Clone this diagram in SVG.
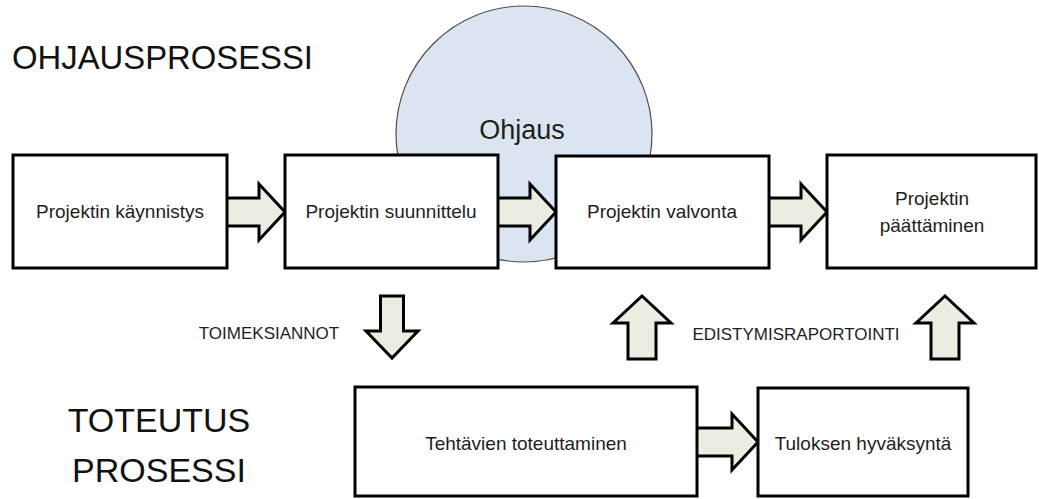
<svg xmlns="http://www.w3.org/2000/svg" width="1039" height="499" viewBox="0 0 1039 499">
  <style>
    .box { fill: #ffffff; stroke: #000000; stroke-width: 3; }
    .arrow { fill: #eeece1; stroke: #000000; stroke-width: 3; stroke-linejoin: miter; }
    .lbl { font-family: "Liberation Sans", Arial, sans-serif; font-size: 19px; fill: #1e1e1e; text-anchor: middle; }
    .small { font-family: "Liberation Sans", Arial, sans-serif; font-size: 17px; fill: #1e1e1e; text-anchor: middle; }
    .title { font-family: "Liberation Sans", Arial, sans-serif; font-size: 34px; fill: #111111; }
  </style>
  <rect width="1039" height="499" fill="#ffffff"/>

  <g id="title-ohjaus">
    <text class="title" x="12" y="69" textLength="301" lengthAdjust="spacingAndGlyphs">OHJAUSPROSESSI</text>
  </g>
  <g id="title-toteutus">
    <text class="title" x="159" y="432" text-anchor="middle">TOTEUTUS</text>
    <text class="title" x="159" y="482" text-anchor="middle">PROSESSI</text>
  </g>

  <g id="ohjaus">
    <circle cx="524" cy="134" r="128" fill="#dbe5f1" stroke="#4d4d4d" stroke-width="1.2"/>
    <text x="522" y="139" font-family="Liberation Sans, Arial, sans-serif" font-size="27" fill="#1e1e1e" text-anchor="middle">Ohjaus</text>
  </g>

  <g id="connectors">
    <polygon class="arrow" points="222,198 259,198 259,184 285,212 259,240 259,226 222,226"/>
    <polygon class="arrow" points="493,198 530,198 530,184 556,212 530,240 530,226 493,226"/>
    <polygon class="arrow" points="764,198 801,198 801,184 827,212 801,240 801,226 764,226"/>
    <polygon class="arrow" points="692,428 732,428 732,414 758,442 732,470 732,456 692,456"/>
    <polygon class="arrow" points="380.5,296 403.5,296 403.5,331 418,331 392,358 366,331 380.5,331"/>
    <polygon class="arrow" points="628,359 656,359 656,323 671,323 642,296 613,323 628,323"/>
    <polygon class="arrow" points="931,359 959,359 959,323 974,323 945,296 916,323 931,323"/>
    <text class="small" x="269" y="339">TOIMEKSIANNOT</text>
    <text class="small" x="796" y="340">EDISTYMISRAPORTOINTI</text>
  </g>

  <g id="node-kaynnistys">
    <rect class="box" x="13" y="155" width="214" height="113"/>
    <text class="lbl" x="120" y="218">Projektin käynnistys</text>
  </g>
  <g id="node-suunnittelu">
    <rect class="box" x="285" y="155" width="213" height="113"/>
    <text class="lbl" x="391" y="218">Projektin suunnittelu</text>
  </g>
  <g id="node-valvonta">
    <rect class="box" x="556" y="156" width="213" height="112"/>
    <text class="lbl" x="662" y="218">Projektin valvonta</text>
  </g>
  <g id="node-paattaminen">
    <rect class="box" x="827" y="155" width="209" height="113"/>
    <text class="lbl" x="932" y="205">Projektin</text>
    <text class="lbl" x="932" y="232">päättäminen</text>
  </g>
  <g id="node-toteuttaminen">
    <rect class="box" x="355" y="387" width="342" height="109"/>
    <text class="lbl" x="526" y="450">Tehtävien toteuttaminen</text>
  </g>
  <g id="node-hyvaksynta">
    <rect class="box" x="758" y="388" width="210" height="108"/>
    <text class="lbl" x="863" y="450">Tuloksen hyväksyntä</text>
  </g>
</svg>
